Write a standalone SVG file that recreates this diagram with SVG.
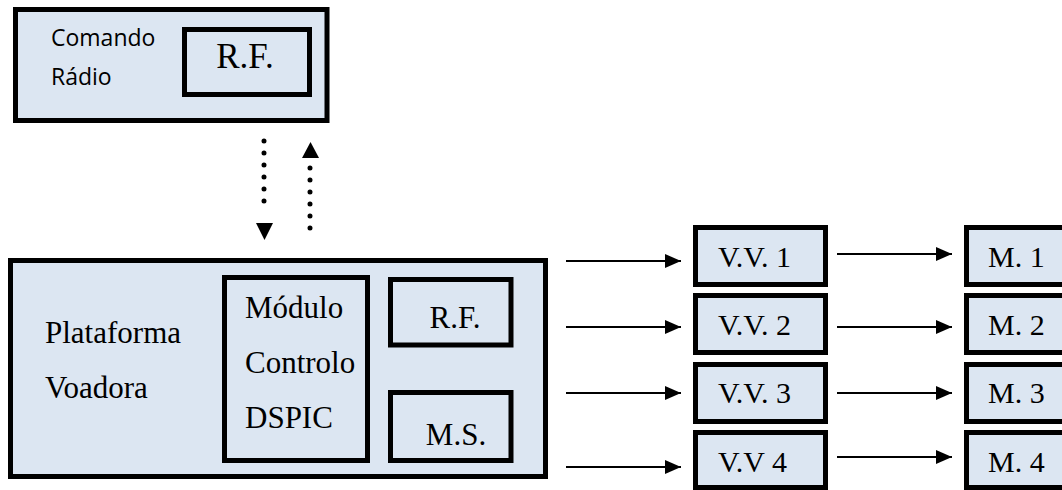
<svg xmlns="http://www.w3.org/2000/svg" width="1062" height="490" viewBox="0 0 1062 490">
  <style>
    .box { fill: #DCE6F2; stroke: #000; stroke-width: 5; }
    .serif { font-family: "Liberation Serif", "Times New Roman", serif; fill: #000; }
    .sans { font-family: "Open Sans", "Noto Sans", sans-serif; fill: #000; }
    .arrow { stroke: #000; stroke-width: 2; fill: none; marker-end: url(#head); }
    .dots { stroke: #000; stroke-width: 5; stroke-linecap: round; stroke-dasharray: 0 12; fill: none; }
  </style>
  <defs>
    <marker id="head" markerUnits="userSpaceOnUse" markerWidth="16" markerHeight="14" refX="16" refY="7" orient="auto">
      <path d="M0,0 L16,7 L0,14 Z" fill="#000"/>
    </marker>
  </defs>
  <rect width="1062" height="490" fill="#fff"/>

  <g id="comando-radio">
    <rect class="box" x="15.5" y="9.5" width="311.5" height="111"/>
    <text class="sans" x="51" y="45.5" font-size="23">Comando</text>
    <text class="sans" x="51" y="85" font-size="23">Rádio</text>
  </g>
  <g id="rf-comando">
    <rect class="box" x="184.5" y="29.5" width="125" height="65"/>
    <text class="serif" x="245" y="68" font-size="35" text-anchor="middle">R.F.</text>
  </g>

  <g id="plataforma-voadora">
    <rect class="box" x="10.5" y="260.5" width="535" height="216"/>
    <text class="serif" x="45" y="343" font-size="31">Plataforma</text>
    <text class="serif" x="45" y="398" font-size="31">Voadora</text>
  </g>
  <g id="modulo-controlo">
    <rect class="box" x="224.5" y="277.5" width="143" height="183"/>
    <text class="serif" x="245" y="318" font-size="31">Módulo</text>
    <text class="serif" x="245" y="373" font-size="31">Controlo</text>
    <text class="serif" x="245" y="428" font-size="31">DSPIC</text>
  </g>
  <g id="rf-plataforma">
    <rect class="box" x="390.5" y="279.5" width="120.5" height="65.5"/>
    <text class="serif" x="455" y="328" font-size="31" text-anchor="middle">R.F.</text>
  </g>
  <g id="ms">
    <rect class="box" x="390.5" y="392.5" width="120.5" height="68"/>
    <text class="serif" x="456" y="445" font-size="31" text-anchor="middle">M.S.</text>
  </g>

  <g id="vv1">
    <rect class="box" x="695.5" y="227.5" width="130" height="57"/>
    <text class="serif" x="718" y="267" font-size="30">V.V. 1</text>
  </g>
  <g id="vv2">
    <rect class="box" x="695.5" y="295.5" width="130" height="57"/>
    <text class="serif" x="718" y="335" font-size="30">V.V. 2</text>
  </g>
  <g id="vv3">
    <rect class="box" x="695.5" y="364.5" width="130" height="57"/>
    <text class="serif" x="718" y="403" font-size="30">V.V. 3</text>
  </g>
  <g id="vv4">
    <rect class="box" x="695.5" y="432.5" width="130" height="55"/>
    <text class="serif" x="718" y="472" font-size="30">V.V 4</text>
  </g>

  <g id="m1">
    <rect class="box" x="966.5" y="227.5" width="110" height="57"/>
    <text class="serif" x="988" y="267" font-size="30">M. 1</text>
  </g>
  <g id="m2">
    <rect class="box" x="966.5" y="295.5" width="110" height="57"/>
    <text class="serif" x="988" y="335" font-size="30">M. 2</text>
  </g>
  <g id="m3">
    <rect class="box" x="966.5" y="364.5" width="110" height="57"/>
    <text class="serif" x="988" y="403" font-size="30">M. 3</text>
  </g>
  <g id="m4">
    <rect class="box" x="966.5" y="432.5" width="110" height="55"/>
    <text class="serif" x="988" y="472" font-size="30">M. 4</text>
  </g>

  <g id="connectors">
    <line class="dots" x1="264" y1="141" x2="264" y2="213"/>
    <path d="M256,223 L273,223 L264.5,240 Z" fill="#000"/>
    <line class="dots" x1="310" y1="168" x2="310" y2="240"/>
    <path d="M302,158 L319,158 L310.5,142 Z" fill="#000"/>

    <line class="arrow" x1="566" y1="261" x2="681" y2="261"/>
    <line class="arrow" x1="566" y1="327" x2="681" y2="327"/>
    <line class="arrow" x1="566" y1="393" x2="681" y2="393"/>
    <line class="arrow" x1="566" y1="467" x2="681" y2="467"/>

    <line class="arrow" x1="837" y1="254" x2="952" y2="254"/>
    <line class="arrow" x1="837" y1="327" x2="952" y2="327"/>
    <line class="arrow" x1="837" y1="393" x2="952" y2="393"/>
    <line class="arrow" x1="837" y1="457" x2="952" y2="457"/>
  </g>
</svg>
